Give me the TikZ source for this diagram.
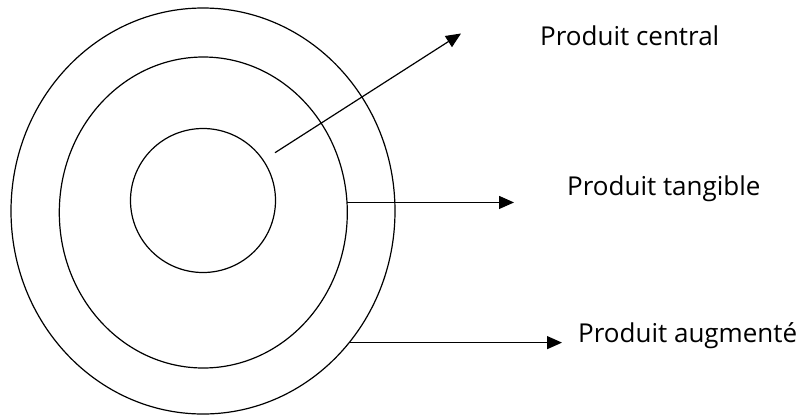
\documentclass[tikz,border=0pt]{standalone}
\usepackage{fontspec}
\setmainfont{Open Sans}
\usetikzlibrary{shapes.geometric,arrows.meta}
\begin{document}
\begin{tikzpicture}[x=1pt,y=-1pt,
  ring/.style={draw=black, line width=1.2pt, ellipse, inner sep=0pt, outer sep=0pt},
  conn/.style={line width=1.2pt, -{Triangle[length=15pt,width=13pt]}},
  lbl/.style={anchor=base west, inner sep=0pt, font=\fontsize{26}{30}\selectfont}]
\useasboundingbox (0,0) rectangle (797,416);
\node[ring, minimum width=384pt, minimum height=406pt] (outer) at (203,211) {};
\node[ring, minimum width=288pt, minimum height=311pt] (mid) at (203.3,212.5) {};
\node[ring, minimum width=145pt, minimum height=144pt] (inner) at (203,200.5) {};
\node[lbl] (central) at (540,45) {Produit central};
\node[lbl] (tangible) at (567,195) {Produit tangible};
\node[lbl] (augm) at (578,342) {Produit augmenté};
\coordinate (s1) at (275,152.7);
\coordinate (t1) at (461,33.5);
\coordinate (t2) at (514,200.5);
\coordinate (t3) at (562,344.5);
\draw[conn] (s1) -- (t1);
\draw[conn] (mid.4.8) -- (t2 |- mid.4.8);
\draw[conn] (outer.-42.8) -- (t3 |- outer.-42.8);
\end{tikzpicture}
\end{document}
